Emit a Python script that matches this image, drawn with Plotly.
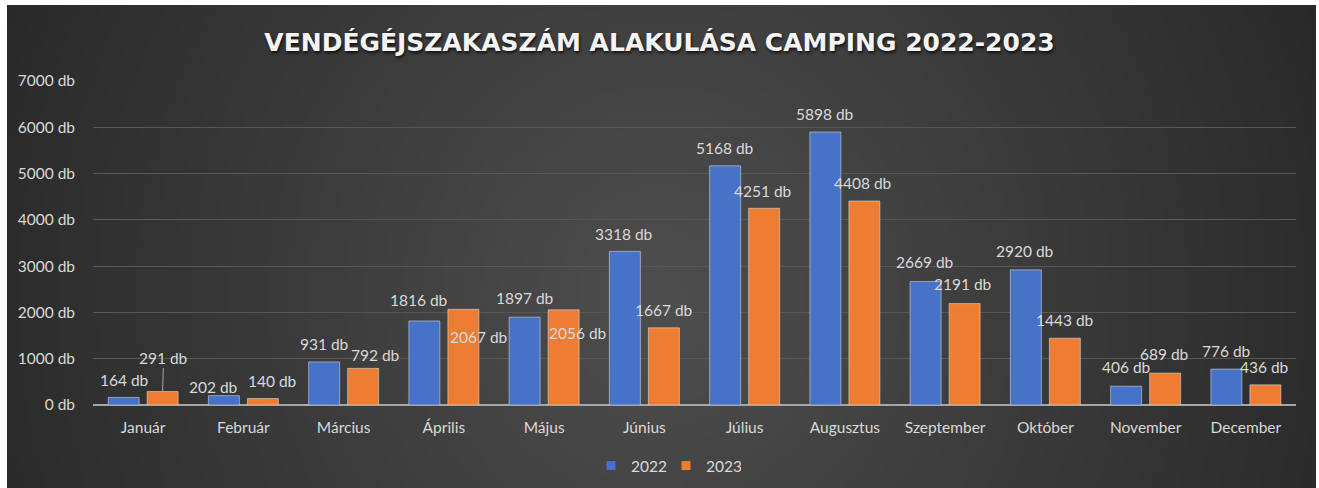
import base64, struct, zlib
import plotly.graph_objects as go

# ---------------- data ----------------
months = ["Január", "Február", "Március", "Április", "Május", "Június",
          "Július", "Augusztus", "Szeptember", "Október", "November", "December"]
v2022 = [164, 202, 931, 1816, 1897, 3318, 5168, 5898, 2669, 2920, 406, 776]
v2023 = [291, 140, 792, 2067, 2056, 1667, 4251, 4408, 2191, 1443, 689, 436]
series_names = ["2022", "2023"]
y_ticks = [0, 1000, 2000, 3000, 4000, 5000, 6000, 7000]
y_tick_labels = ["0 db", "1000 db", "2000 db", "3000 db", "4000 db", "5000 db", "6000 db", "7000 db"]
title_text = "VENDÉGÉJSZAKASZÁM ALAKULÁSA CAMPING 2022-2023"

# label placement tweaks (pixels) – styling only
dx2022 = [1, -10, 0, -5, 0, -1, 0, 0, -1, -1, 0, 0]
dy2022 = [17, 9, 18, 21, 19, 17, 18, 18, 19, 19, 19, 18]
dx2023 = [0, 10, 12, 16, 14, 0, -1, -1, -2, 0, -1, -1]
dy2023 = [34, 18, 13, -28, -23, 18, 17, 18, 20, 18, 19, 18]

BLUE = "#4672c8"
ORANGE = "#ee7d34"
TXT = "#d9d9d9"
FONT = "Lato"

W, H = 1319, 488
L, R, T, B = 93, 23, 81, 83
PW = W - L - R
PH = H - T - B


# ---------------- background gradient image ----------------
def gradient_png(w, h):
    rows = []
    cx, cy = 0.5, 0.6
    for j in range(h):
        row = bytearray([0])
        for i in range(w):
            dxn = ((i + 0.5) / w - cx) / 0.5
            dyn = ((j + 0.5) / h - cy) / 0.5
            d = (dxn ** 2 + (0.35 * dyn) ** 2) ** 0.5
            d = min(d, 1.15)
            v = int(round(78 - 34 * d))
            v = max(36, min(90, v))
            row += bytes([v, v, v])
        rows.append(bytes(row))
    raw = b"".join(rows)

    def chunk(t, dat):
        return (struct.pack(">I", len(dat)) + t + dat +
                struct.pack(">I", zlib.crc32(t + dat) & 0xffffffff))

    png = (b"\x89PNG\r\n\x1a\n" +
           chunk(b"IHDR", struct.pack(">IIBBBBB", w, h, 8, 2, 0, 0, 0)) +
           chunk(b"IDAT", zlib.compress(raw, 9)) +
           chunk(b"IEND", b""))
    return "data:image/png;base64," + base64.b64encode(png).decode()


bg = gradient_png(262, 97)

# dark area in pixels
bx0, bx1, by0, by1 = 7, 1316, 5, 488

fig = go.Figure()

bar_w = 31 / (PW / 12)
gap = 8 / (PW / 12)
off_blue = -(bar_w + gap / 2)
off_orange = gap / 2

fig.add_trace(go.Bar(x=months, y=v2022, name=series_names[0], marker_color=BLUE,
                     width=bar_w, offset=off_blue, showlegend=False, hoverinfo="x+y"))
fig.add_trace(go.Bar(x=months, y=v2023, name=series_names[1], marker_color=ORANGE,
                     width=bar_w, offset=off_orange, showlegend=False, hoverinfo="x+y"))

# legend entries with small square markers
for nm, col in zip(series_names, [BLUE, ORANGE]):
    fig.add_trace(go.Scatter(x=[None], y=[None], mode="markers", name=nm,
                             marker=dict(symbol="square", size=9, color=col)))

px_per_cat = PW / 12
c_blue = (off_blue + bar_w / 2) * px_per_cat
c_orange = (off_orange + bar_w / 2) * px_per_cat

annotations = []
lab_font = dict(family=FONT, size=15.5, color=TXT)
for i, m in enumerate(months):
    annotations.append(dict(x=m, y=v2022[i], xref="x", yref="y",
                            text=f"{v2022[i]} db", showarrow=False,
                            xshift=c_blue + dx2022[i], yshift=dy2022[i],
                            yanchor="middle", xanchor="center", font=lab_font))
    if i == 0:
        annotations.append(dict(x=m, y=v2023[i], xref="x", yref="y",
                                text=f"{v2023[i]} db", showarrow=True,
                                arrowhead=0, arrowwidth=1, arrowcolor="#a6a6a6",
                                ax=1, ay=-dy2023[i], standoff=0,
                                xshift=c_orange + dx2023[i],
                                font=lab_font))
    else:
        annotations.append(dict(x=m, y=v2023[i], xref="x", yref="y",
                                text=f"{v2023[i]} db", showarrow=False,
                                xshift=c_orange + dx2023[i], yshift=dy2023[i],
                                yanchor="middle", xanchor="center", font=lab_font))

fig.update_layout(
    width=W, height=H,
    margin=dict(l=L, r=R, t=T, b=B, pad=0),
    paper_bgcolor="#ffffff",
    plot_bgcolor="rgba(0,0,0,0)",
    barmode="overlay",
    font=dict(family=FONT, size=15.5, color=TXT),
    title=dict(text=title_text, x=0.5, xref="container", xanchor="center",
               y=1 - 42 / H, yref="container", yanchor="middle",
               font=dict(family="DejaVu Sans", size=25, color="#f4f4f4", weight="bold",
                         shadow="1px 2px 3px rgba(0,0,0,0.75)")),
    legend=dict(orientation="h", x=666 / W, xref="container", xanchor="center",
                y=1 - 466 / H, yref="container", yanchor="middle",
                font=dict(family=FONT, size=15.5, color=TXT),
                bgcolor="rgba(0,0,0,0)", itemwidth=30, tracegroupgap=0,
                entrywidth=30),
    images=[dict(source=bg, xref="paper", yref="paper",
                 x=(bx0 - L) / PW, y=(H - B - by0) / PH,
                 sizex=(bx1 - bx0) / PW, sizey=(by1 - by0) / PH,
                 xanchor="left", yanchor="top", sizing="stretch", layer="below")],
    annotations=annotations,
    xaxis=dict(type="category", showgrid=False, showline=False, zeroline=False,
               ticks="", tickfont=dict(family=FONT, size=15.5, color=TXT),
               ticklabelstandoff=11, range=[-0.5, 11.5], fixedrange=True),
    yaxis=dict(range=[0, 7000], tickmode="array", tickvals=y_ticks, ticktext=y_tick_labels,
               showgrid=True, gridcolor="#575757", gridwidth=1,
               zeroline=True, zerolinecolor="#a6a6a6", zerolinewidth=2,
               showline=False, ticks="", ticklabelstandoff=17,
               tickfont=dict(family=FONT, size=15.5, color=TXT), fixedrange=True),
    showlegend=True,
)

fig.write_html("out.html", config={"displayModeBar": False},
               post_script="document.body.style.margin='0';document.body.style.overflow='hidden';")
